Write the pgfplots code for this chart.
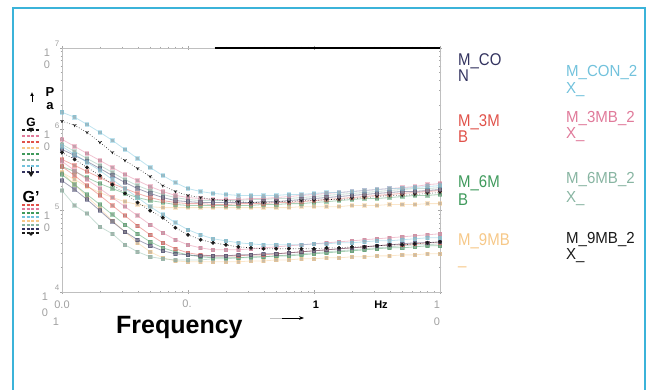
\documentclass[border=0pt]{standalone}
\usepackage{pgfplots}
\pgfplotsset{compat=1.18}
\usepackage{pgfplotstable}
\usepackage{graphicx}
\usepackage{fontspec}
\setmainfont{Liberation Sans}
\setsansfont{Liberation Sans}
\usetikzlibrary{arrows.meta}

\definecolor{cNavy}{HTML}{33335F}
\definecolor{cCyan}{HTML}{72C2DC}
\definecolor{cRed}{HTML}{E0524A}
\definecolor{cPink}{HTML}{E07A9A}
\definecolor{cGreen}{HTML}{3F9A5C}
\definecolor{cSage}{HTML}{88B5A2}
\definecolor{cOrange}{HTML}{F6C888}
\definecolor{cBlack}{HTML}{1A1A1A}
\definecolor{frameblue}{HTML}{3BB3D9}
\definecolor{tickgray}{HTML}{A0A0A0}

% upper group of curves (G'')
\pgfplotstableread{
f con con2x mb3 mb3x mb6 mb6x mb9 mb9x
0.01 5.66e5 1.62e6 4.26e5 7.53e5 3.49e5 6.53e5 2.95e5 1.26e6
0.0126 4.77e5 1.41e6 3.60e5 6.17e5 3.03e5 5.35e5 2.41e5 1.12e6
0.0158 4.03e5 1.15e6 3.03e5 5.05e5 2.55e5 4.38e5 1.98e5 9.18e5
0.02 3.30e5 9.18e5 2.55e5 4.14e5 2.15e5 3.60e5 1.67e5 6.92e5
0.0251 2.70e5 7.32e5 2.15e5 3.40e5 1.87e5 2.95e5 1.45e5 5.20e5
0.0316 2.22e5 5.66e5 1.87e5 2.78e5 1.63e5 2.41e5 1.29e5 4.14e5
0.0398 1.87e5 4.38e5 1.63e5 2.34e5 1.45e5 2.03e5 1.19e5 3.30e5
0.0501 1.63e5 3.40e5 1.45e5 1.98e5 1.33e5 1.77e5 1.12e5 2.63e5
0.0631 1.45e5 2.70e5 1.33e5 1.72e5 1.26e5 1.58e5 1.09e5 2.03e5
0.0794 1.33e5 2.21e5 1.26e5 1.54e5 1.19e5 1.45e5 1.09e5 1.72e5
0.1 1.29e5 1.87e5 1.22e5 1.45e5 1.16e5 1.37e5 1.09e5 1.54e5
0.126 1.26e5 1.72e5 1.22e5 1.41e5 1.16e5 1.33e5 1.09e5 1.45e5
0.158 1.26e5 1.63e5 1.19e5 1.37e5 1.16e5 1.33e5 1.09e5 1.37e5
0.2 1.26e5 1.58e5 1.19e5 1.37e5 1.16e5 1.33e5 1.09e5 1.33e5
0.251 1.26e5 1.54e5 1.22e5 1.37e5 1.16e5 1.33e5 1.09e5 1.29e5
0.316 1.26e5 1.54e5 1.22e5 1.41e5 1.16e5 1.37e5 1.09e5 1.26e5
0.398 1.29e5 1.54e5 1.22e5 1.41e5 1.19e5 1.37e5 1.09e5 1.26e5
0.501 1.29e5 1.54e5 1.26e5 1.45e5 1.19e5 1.41e5 1.09e5 1.29e5
0.631 1.33e5 1.58e5 1.26e5 1.49e5 1.22e5 1.41e5 1.09e5 1.29e5
0.794 1.37e5 1.58e5 1.29e5 1.54e5 1.22e5 1.45e5 1.12e5 1.33e5
1 1.41e5 1.63e5 1.33e5 1.58e5 1.26e5 1.49e5 1.12e5 1.33e5
1.26 1.45e5 1.67e5 1.37e5 1.63e5 1.29e5 1.54e5 1.12e5 1.37e5
1.58 1.49e5 1.67e5 1.41e5 1.67e5 1.33e5 1.58e5 1.12e5 1.37e5
2 1.54e5 1.72e5 1.45e5 1.72e5 1.37e5 1.63e5 1.16e5 1.41e5
2.51 1.58e5 1.77e5 1.49e5 1.77e5 1.41e5 1.67e5 1.16e5 1.45e5
3.16 1.63e5 1.82e5 1.54e5 1.82e5 1.41e5 1.72e5 1.16e5 1.49e5
3.98 1.67e5 1.87e5 1.58e5 1.87e5 1.45e5 1.77e5 1.19e5 1.54e5
5.01 1.72e5 1.87e5 1.63e5 1.92e5 1.49e5 1.82e5 1.19e5 1.54e5
6.31 1.72e5 1.93e5 1.67e5 1.98e5 1.54e5 1.87e5 1.19e5 1.58e5
7.94 1.77e5 1.98e5 1.72e5 2.09e5 1.54e5 1.87e5 1.22e5 1.63e5
10 1.82e5 2.03e5 1.77e5 2.15e5 1.58e5 1.92e5 1.22e5 1.67e5
}\Gupper

% lower group of curves (G')
\pgfplotstableread{
f con con2x mb3 mb3x mb6 mb6x mb9 mb9x
0.01 2.34e5 6.17e5 3.49e5 4.03e5 2.78e5 1.77e5 2.95e5 5.20e5
0.0126 1.82e5 4.91e5 2.70e5 3.12e5 2.09e5 1.16e5 2.09e5 4.26e5
0.0158 1.37e5 3.92e5 2.03e5 2.41e5 1.58e5 9.19e4 1.49e5 3.40e5
0.02 1.00e5 3.12e5 1.54e5 1.87e5 1.19e5 6.35e4 1.06e5 2.70e5
0.0251 7.32e4 2.41e5 1.16e5 1.45e5 8.93e4 5.20e4 7.52e4 2.09e5
0.0316 5.51e4 1.87e5 8.68e4 1.12e5 6.72e4 3.80e4 5.51e4 1.63e5
0.0398 4.39e4 1.45e5 6.53e4 8.68e4 5.20e4 3.12e4 4.03e4 1.26e5
0.0501 3.70e4 1.12e5 5.05e4 6.72e4 4.14e4 2.71e4 3.12e4 1.00e5
0.0631 3.21e4 8.93e4 4.03e4 5.35e4 3.49e4 2.56e4 2.63e4 8.19e4
0.0794 2.95e4 7.12e4 3.40e4 4.39e4 3.12e4 2.48e4 2.41e4 6.17e4
0.1 2.86e4 5.83e4 3.03e4 3.80e4 2.86e4 2.48e4 2.35e4 5.05e4
0.126 2.78e4 5.05e4 2.86e4 3.49e4 2.71e4 2.48e4 2.35e4 4.39e4
0.158 2.78e4 4.51e4 2.78e4 3.30e4 2.63e4 2.56e4 2.35e4 4.03e4
0.2 2.78e4 4.26e4 2.78e4 3.30e4 2.63e4 2.56e4 2.35e4 3.80e4
0.251 2.86e4 4.03e4 2.78e4 3.30e4 2.63e4 2.63e4 2.35e4 3.59e4
0.316 2.86e4 3.91e4 2.86e4 3.40e4 2.71e4 2.63e4 2.41e4 3.49e4
0.398 2.95e4 3.80e4 2.86e4 3.49e4 2.71e4 2.71e4 2.41e4 3.40e4
0.501 2.95e4 3.80e4 2.95e4 3.59e4 2.78e4 2.78e4 2.48e4 3.40e4
0.631 3.03e4 3.80e4 3.03e4 3.70e4 2.78e4 2.86e4 2.48e4 3.40e4
0.794 3.12e4 3.80e4 3.12e4 3.80e4 2.86e4 2.95e4 2.56e4 3.40e4
1 3.21e4 3.91e4 3.21e4 3.91e4 2.95e4 3.03e4 2.56e4 3.40e4
1.26 3.30e4 3.91e4 3.30e4 4.03e4 3.03e4 3.12e4 2.63e4 3.49e4
1.58 3.40e4 4.03e4 3.40e4 4.14e4 3.12e4 3.21e4 2.63e4 3.49e4
2 3.49e4 4.03e4 3.49e4 4.26e4 3.21e4 3.30e4 2.71e4 3.59e4
2.51 3.59e4 4.14e4 3.59e4 4.39e4 3.30e4 3.40e4 2.71e4 3.59e4
3.16 3.70e4 4.26e4 3.70e4 4.51e4 3.40e4 3.49e4 2.78e4 3.70e4
3.98 3.80e4 4.26e4 3.80e4 4.64e4 3.49e4 3.59e4 2.78e4 3.80e4
5.01 3.91e4 4.39e4 3.80e4 4.77e4 3.49e4 3.70e4 2.86e4 3.80e4
6.31 4.03e4 4.51e4 3.91e4 4.91e4 3.59e4 3.80e4 2.86e4 3.91e4
7.94 4.03e4 4.64e4 4.03e4 5.05e4 3.70e4 3.80e4 2.95e4 4.03e4
10 4.14e4 4.64e4 4.03e4 5.20e4 3.70e4 3.91e4 2.95e4 4.14e4
}\Glower

\pgfplotsset{
  ser/.style={color=#1, line width=0.8pt, draw opacity=0.45, mark=square*, mark size=1.8pt,
    mark options={solid, fill=#1!45!gray!80!white, draw=none, fill opacity=0.85}},
  blk/.style={color=cBlack, dotted, line width=0.6pt, mark size=1.6pt,
    mark options={solid, fill=cBlack, draw=cBlack}},
}
\newcommand\tl{\fontsize{11}{11}\selectfont\color{tickgray}}
\newcommand\te{\fontsize{8}{8}\selectfont\color{tickgray}}
\newcommand\La[1]{\scalebox{0.88}[1]{\fontsize{17}{17}\selectfont #1}}
\newcommand\Lb[1]{\scalebox{0.94}[1]{\fontsize{16}{16}\selectfont #1}}

\begin{document}
\begin{tikzpicture}
\path[use as bounding box] (0pt,0pt) rectangle (651pt,389pt);

\begin{axis}[
  at={(62pt,97pt)}, anchor=south west, scale only axis,
  width=378pt, height=244pt,
  xmode=log, ymode=log,
  xmin=0.01, xmax=10, ymin=1e4, ymax=1e7,
  xtick={0.01,0.1,1,10}, ytick={1e4,1e5,1e6,1e7},
  minor xtick={}, minor ytick={},
  xticklabels={}, yticklabels={},
  axis line style={draw=black!25, line width=0.8pt},
  tick style={draw=black!35, line width=0.6pt},
  major tick length=4pt, tick align=center,
]
\addplot[ser=cOrange] table[x=f,y=mb9]{\Gupper};
\addplot[ser=cSage] table[x=f,y=mb6x]{\Gupper};
\addplot[ser=cGreen] table[x=f,y=mb6]{\Gupper};
\addplot[ser=cRed] table[x=f,y=mb3]{\Gupper};
\addplot[ser=cPink] table[x=f,y=mb3x]{\Gupper};
\addplot[ser=cNavy] table[x=f,y=con]{\Gupper};
\addplot[ser=cCyan] table[x=f,y=con2x]{\Gupper};
\addplot[ser=cOrange] table[x=f,y=mb9]{\Glower};
\addplot[ser=cSage] table[x=f,y=mb6x]{\Glower};
\addplot[ser=cGreen] table[x=f,y=mb6]{\Glower};
\addplot[ser=cRed] table[x=f,y=mb3]{\Glower};
\addplot[ser=cPink] table[x=f,y=mb3x]{\Glower};
\addplot[ser=cNavy] table[x=f,y=con]{\Glower};
\addplot[ser=cCyan] table[x=f,y=con2x]{\Glower};
\addplot[blk, mark=triangle*, mark options={rotate=180}] table[x=f,y=mb9x]{\Gupper};
\addplot[blk, mark=*] table[x=f,y=mb9x]{\Glower};
\draw[black, line width=1.3pt] (axis cs:0.163,1e7) -- (axis cs:10,1e7);
\end{axis}

\begin{scope}[x=1pt,y=1pt]
% frame
\draw[frameblue, line width=2.6pt] (13,-10) -- (13,381) -- (645,381) -- (645,-10);

% y tick labels (broken 10^k)
\foreach \Y/\e in {97/4,178.3/5,259.7/6,341/7}{
  \node[inner sep=0] at (57,\Y+4) {\te\e};
}
\foreach \Y in {178.3,259.7,341}{
  \node[inner sep=0] at (47,\Y-5) {\tl 1};
  \node[inner sep=0] at (47,\Y-17) {\tl 0};
}
\node[inner sep=0] at (45,92) {\tl 1};
\node[inner sep=0] at (45,76) {\tl 0};
% x tick labels
\node[inner sep=0] at (62,84) {\tl 0.0};
\node[inner sep=0] at (56,67) {\tl 1};
\node[inner sep=0] at (187,85) {\tl 0.};
\node[inner sep=0] at (316,84) {\fontsize{11}{11}\selectfont\bfseries 1};
\node[inner sep=0] at (381,84) {\fontsize{11}{11}\selectfont\bfseries Hz};
\node[inner sep=0] at (437,84) {\tl 1};
\node[inner sep=0] at (437,67) {\tl 0};
% x label
\node[anchor=base west, inner sep=0] at (116,56) {\fontsize{25}{25}\selectfont\bfseries Frequency};
\draw[black!25, line width=1pt] (270,71) -- (282,71);
\draw[-{Stealth[length=5pt]}, line width=0.8pt] (282,71) -- (304,71);

% y label
\node[anchor=base, inner sep=0] at (50,292) {\fontsize{13}{13}\selectfont\bfseries P};
\node[anchor=base, inner sep=0] at (50,279) {\fontsize{13}{13}\selectfont\bfseries a};
\draw[-{Latex[length=4pt,width=4pt]}, line width=1pt] (32,287) -- (32,297);
\node[anchor=base, inner sep=0] at (31,262) {\fontsize{12}{12}\selectfont\bfseries G};
\foreach \yy/\cc in {259/cBlack,253/cPink,247/cRed,241/cOrange,235/cGreen,229/cSage,223/cCyan,217/cNavy}{
  \draw[\cc, line width=1.2pt, dash pattern=on 3pt off 1.5pt] (22,\yy) -- (40,\yy);
}
\fill[cBlack] (28.5,261) -- (33.5,261) -- (31,256.5) -- cycle;
\fill[cBlack] (28,217) -- (34,217) -- (31,212) -- cycle;
\draw[cBlack, line width=0.8pt] (31,217) -- (31,222);
\node[anchor=base, inner sep=0] at (31,187) {\fontsize{16}{16}\selectfont\bfseries G'};
\foreach \yy/\cc in {184/cRed,180/cPink,176/cGreen,172/cCyan,168/cOrange,164/cSage,160/cNavy,156/cBlack}{
  \draw[\cc, line width=1.2pt, dash pattern=on 3pt off 1.5pt] (22,\yy) -- (40,\yy);
}
\fill[cBlack] (31,155) circle (1.8pt);

% legend text
\node[anchor=base west, inner sep=0, text=cNavy] at (458,323) {\La{M\_CO}};
\node[anchor=base west, inner sep=0, text=cNavy] at (458,307) {\La{N}};
\node[anchor=base west, inner sep=0, text=cRed] at (458,262) {\La{M\_3M}};
\node[anchor=base west, inner sep=0, text=cRed] at (458,246) {\La{B}};
\node[anchor=base west, inner sep=0, text=cGreen] at (458,202) {\La{M\_6M}};
\node[anchor=base west, inner sep=0, text=cGreen] at (458,183) {\La{B}};
\node[anchor=base west, inner sep=0, text=cOrange] at (458,144) {\La{M\_9MB}};
\node[anchor=base west, inner sep=0, text=cOrange] at (458,125) {\La{\_}};

\node[anchor=base west, inner sep=0, text=cCyan] at (566,312) {\Lb{M\_CON\_2}};
\node[anchor=base west, inner sep=0, text=cCyan] at (566,295) {\Lb{X\_}};
\node[anchor=base west, inner sep=0, text=cPink] at (566,266) {\Lb{M\_3MB\_2}};
\node[anchor=base west, inner sep=0, text=cPink] at (566,250) {\Lb{X\_}};
\node[anchor=base west, inner sep=0, text=cSage] at (566,206) {\Lb{M\_6MB\_2}};
\node[anchor=base west, inner sep=0, text=cSage] at (566,187) {\Lb{X\_}};
\node[anchor=base west, inner sep=0, text=cBlack] at (566,146) {\Lb{M\_9MB\_2}};
\node[anchor=base west, inner sep=0, text=cBlack] at (566,130) {\Lb{X\_}};
\end{scope}
\end{tikzpicture}
\end{document}
